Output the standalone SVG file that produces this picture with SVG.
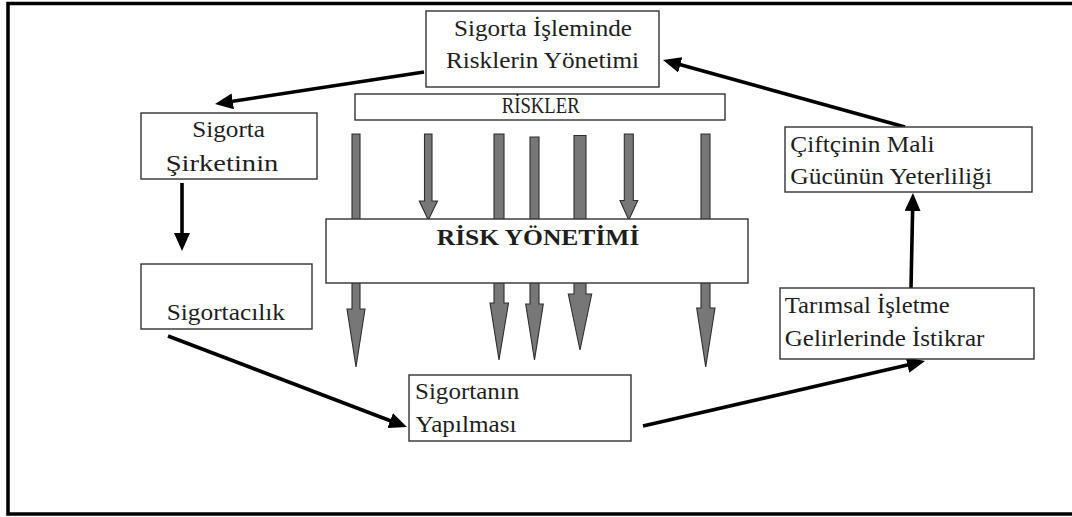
<svg xmlns="http://www.w3.org/2000/svg" width="1072" height="517" viewBox="0 0 1072 517">
<style>
.box{fill:#fff;stroke:#333;stroke-width:1.4}
.t{font-family:"Liberation Serif","Times New Roman",serif;font-size:23px;fill:#1e1e1e}
.conn{fill:none;stroke:#000;stroke-width:3.6;marker-end:url(#ah)}
.risk{fill:#777;stroke:#2e2e2e;stroke-width:1.1;stroke-linejoin:miter}
</style>
<defs>
<marker id="ah" markerUnits="userSpaceOnUse" markerWidth="18" markerHeight="16" refX="10" refY="8" orient="auto">
<path d="M0,0 L18,8 L0,16 Z" fill="#000"/>
</marker>
</defs>
<rect x="0" y="0" width="1072" height="517" fill="#fff"/>
<rect id="frame" x="8" y="3.5" width="1080" height="510.5" fill="none" stroke="#000" stroke-width="3.5"/>
<g id="connectors">
<path class="conn" d="M424,72 L222.9,102.8"/>
<path class="conn" d="M182,183 L182,243"/>
<path class="conn" d="M168,336 L399.5,424.2"/>
<path class="conn" d="M643,426 L917.2,362.8"/>
<path class="conn" d="M911,288 L912.8,201"/>
<path class="conn" d="M905,127 L670.7,62.1"/>
<g id="risk-arrows">
<path class="risk" d="M352,134 H360 V309 H365 L356,367 L347,309 H352 Z"/>
<path class="risk" d="M424.5,134 H432 V201 H437.5 L428.3,220 L419.3,201 H424.5 Z"/>
<path class="risk" d="M494,134 H504 V303 H508.5 L499,360 L490,303 H494 Z"/>
<path class="risk" d="M530,137 H539 V304 H543.3 L534.5,360 L525.7,304 H530 Z"/>
<path class="risk" d="M574,135.5 H586 V294 H591.7 L580,350 L568.3,294 H574 Z"/>
<path class="risk" d="M624.3,134 H633.3 V200.5 H637.7 L628.8,220 L620,200.5 H624.3 Z"/>
<path class="risk" d="M701,134 H710 V308 H715 L705.7,367 L696.7,308 H701 Z"/>
</g>
</g>
<g id="node-top">
<rect class="box" x="426" y="11" width="233" height="76"/>
<text class="t" x="454" y="36" textLength="178" lengthAdjust="spacingAndGlyphs">Sigorta İşleminde</text>
<text class="t" x="446" y="68" textLength="193" lengthAdjust="spacingAndGlyphs">Risklerin Yönetimi</text>
</g>
<g id="node-riskler">
<rect class="box" x="355" y="94" width="370" height="26"/>
<text class="t" x="501.7" y="113" font-size="16" textLength="78" lengthAdjust="spacingAndGlyphs">RİSKLER</text>
</g>
<g id="node-risk-yonetimi">
<rect class="box" x="326" y="219" width="422" height="64"/>
<text class="t" x="436.7" y="245" font-weight="bold" textLength="202.7" lengthAdjust="spacingAndGlyphs">RİSK YÖNETİMİ</text>
</g>
<g id="node-sirket">
<rect class="box" x="141" y="113" width="176" height="66"/>
<text class="t" x="192.3" y="137" textLength="72.7" lengthAdjust="spacingAndGlyphs">Sigorta</text>
<text class="t" x="165.7" y="170.5" textLength="112.7" lengthAdjust="spacingAndGlyphs">Şirketinin</text>
</g>
<g id="node-sigortacilik">
<rect class="box" x="141" y="264" width="171" height="65"/>
<text class="t" x="166.7" y="320" textLength="118.3" lengthAdjust="spacingAndGlyphs">Sigortacılık</text>
</g>
<g id="node-yapilmasi">
<rect class="box" x="409" y="375" width="222" height="66"/>
<text class="t" x="415" y="398.5" textLength="104.3" lengthAdjust="spacingAndGlyphs">Sigortanın</text>
<text class="t" x="415.5" y="432" textLength="101" lengthAdjust="spacingAndGlyphs">Yapılması</text>
</g>
<g id="node-istikrar">
<rect class="box" x="780" y="288" width="254" height="71"/>
<text class="t" x="784.7" y="313" textLength="165" lengthAdjust="spacingAndGlyphs">Tarımsal İşletme</text>
<text class="t" x="784.7" y="346.3" textLength="199.7" lengthAdjust="spacingAndGlyphs">Gelirlerinde İstikrar</text>
</g>
<g id="node-ciftci">
<rect class="box" x="785" y="127" width="247" height="65"/>
<text class="t" x="790.3" y="151.7" textLength="144.3" lengthAdjust="spacingAndGlyphs">Çiftçinin Mali</text>
<text class="t" x="790.3" y="184" textLength="201.7" lengthAdjust="spacingAndGlyphs">Gücünün Yeterliliği</text>
</g>
</svg>
